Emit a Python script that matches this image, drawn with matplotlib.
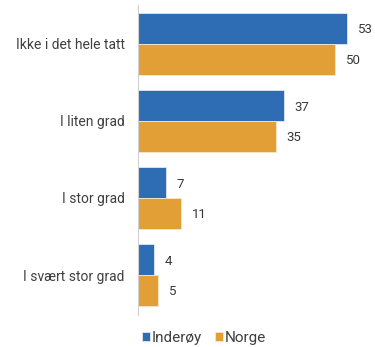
import matplotlib
matplotlib.use("Agg")
import matplotlib.pyplot as plt
import numpy as np

# svarkategorier og andeler (%)
categories = ["Ikke i det hele tatt", "I liten grad", "I stor grad", "I svært stor grad"]
inderoy = [53, 37, 7, 4]
norge = [50, 35, 11, 5]
series_names = ["Inderøy", "Norge"]

BLUE = "#2E6DB4"
ORANGE = "#E19F36"
TEXT = "#404040"

plt.rcParams["font.family"] = ["Roboto", "DejaVu Sans"]

fig = plt.figure(figsize=(3.75, 3.47), dpi=100)
ax = fig.add_axes([0.368, 0.092, 0.63, 0.894])

y = np.arange(len(categories))
h = 0.4

b1 = ax.barh(y - h / 2, inderoy, height=h, color=BLUE, edgecolor="#dfe8f3",
             linewidth=0.6, label=series_names[0])
b2 = ax.barh(y + h / 2, norge, height=h, color=ORANGE, edgecolor="#f6e6cc",
             linewidth=0.6, label=series_names[1])

for bars, vals in ((b1, inderoy), (b2, norge)):
    for bar, v in zip(bars, vals):
        ax.text(v + 2.8, bar.get_y() + bar.get_height() / 2 + 0.02, str(v),
                va="center", ha="left", fontsize=9.5, color="#383838")

ax.set_xlim(0, 60)
ax.set_ylim(3.52, -0.506)
ax.set_yticks(y)
ax.set_yticklabels(categories, fontsize=10, color=TEXT)
ax.tick_params(axis="y", length=0, pad=9.5)
ax.set_xticks([])

for s in ("top", "right", "bottom"):
    ax.spines[s].set_visible(False)
ax.spines["left"].set_color("#d0d0d0")
ax.spines["left"].set_linewidth(0.8)

fig.legend(handles=[b1, b2], labels=series_names, loc="center",
           bbox_to_anchor=(0.544, 0.027), ncol=2, frameon=False,
           fontsize=11, handlelength=0.55, handleheight=0.55,
           handletextpad=0.12, columnspacing=0.85, labelcolor=TEXT,
           borderpad=0.1)

fig.savefig("out.png", dpi=100)
